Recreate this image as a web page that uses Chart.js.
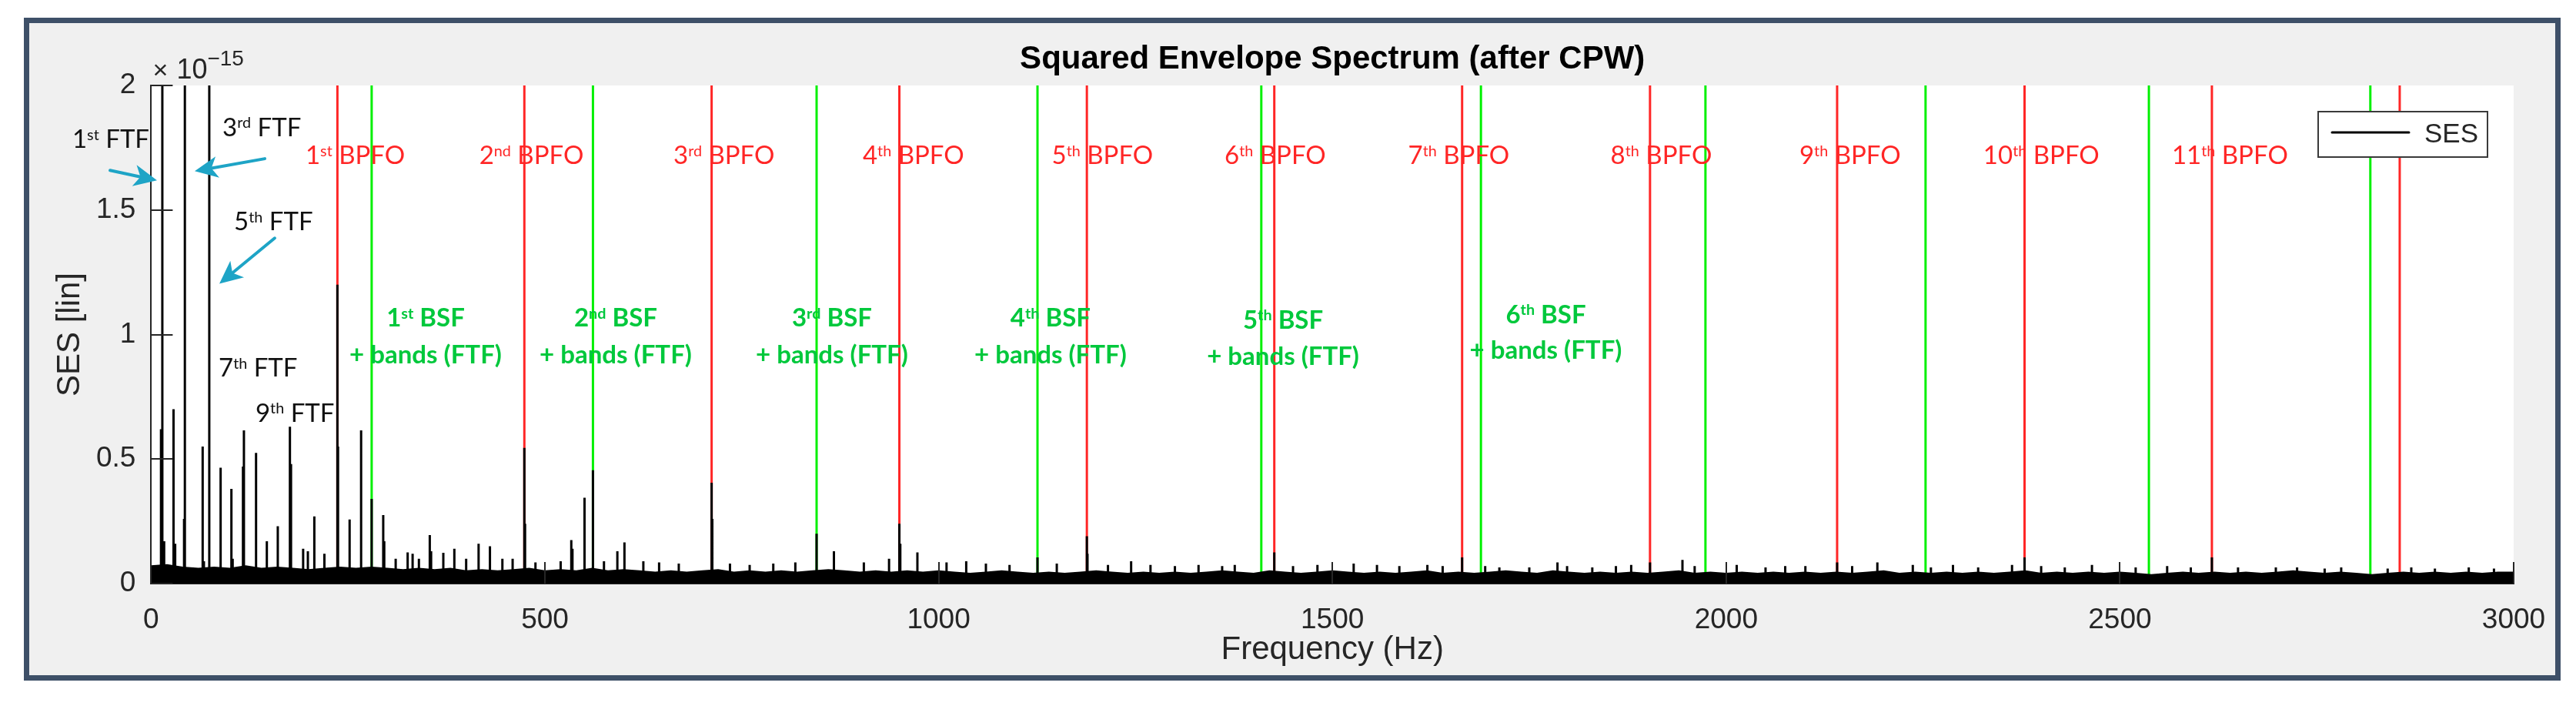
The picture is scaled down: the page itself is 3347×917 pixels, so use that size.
<!DOCTYPE html>
<html>
<head>
<meta charset="utf-8">
<script src="https://cdn.jsdelivr.net/npm/chart.js@4.4.1/dist/chart.umd.min.js"></script>
<style>
html,body{margin:0;padding:0;background:#ffffff;}
#wrap{width:3347px;height:917px;position:relative;}
canvas{display:block;}
</style>
</head>
<body>
<div id="wrap"><canvas id="c" width="3347" height="917"></canvas></div>
<script>
// ---------------- DATA ----------------
const chartTitle = 'Squared Envelope Spectrum (after CPW)';
const xAxisTitle = 'Frequency (Hz)';
const yAxisTitle = 'SES [lin]';
const yExponentLabel = ['\u00d7', '10', '\u221215'];
const seriesName = 'SES';

const xTickValues = [0, 500, 1000, 1500, 2000, 2500, 3000];
const xTickLabels = ['0', '500', '1000', '1500', '2000', '2500', '3000'];
const yTickValues = [0, 0.5, 1, 1.5, 2];
const yTickLabels = ['0', '0.5', '1', '1.5', '2'];

// spectrum noise floor (upper edge of the dense band), x10^-15
const floorFreqs = [0,20,40,60,80,100,120,140,160,180,200,220,240,260,280,300,320,340,360,380,400,420,440,460,480,500,520,540,560,580,600,620,640,660,680,700,720,740,760,780,800,820,840,860,880,900,920,940,960,980,1000,1020,1040,1060,1080,1100,1120,1140,1160,1180,1200,1220,1240,1260,1280,1300,1320,1340,1360,1380,1400,1420,1440,1460,1480,1500,1520,1540,1560,1580,1600,1620,1640,1660,1680,1700,1720,1740,1760,1780,1800,1820,1840,1860,1880,1900,1920,1940,1960,1980,2000,2020,2040,2060,2080,2100,2120,2140,2160,2180,2200,2220,2240,2260,2280,2300,2320,2340,2360,2380,2400,2420,2440,2460,2480,2500,2520,2540,2560,2580,2600,2620,2640,2660,2680,2700,2720,2740,2760,2780,2800,2820,2840,2860,2880,2900,2920,2940,2960,2980,3000];
const floorValues = [0.07,0.075,0.065,0.06,0.065,0.06,0.07,0.06,0.065,0.06,0.055,0.06,0.065,0.06,0.065,0.06,0.055,0.06,0.055,0.06,0.05,0.055,0.05,0.055,0.06,0.05,0.055,0.05,0.06,0.05,0.055,0.05,0.045,0.05,0.045,0.05,0.055,0.045,0.05,0.045,0.05,0.045,0.05,0.055,0.05,0.045,0.05,0.045,0.05,0.045,0.05,0.045,0.04,0.045,0.05,0.045,0.04,0.045,0.04,0.045,0.05,0.045,0.04,0.045,0.04,0.045,0.04,0.045,0.05,0.045,0.04,0.05,0.045,0.04,0.045,0.05,0.045,0.04,0.045,0.04,0.045,0.05,0.04,0.045,0.04,0.045,0.05,0.045,0.04,0.05,0.045,0.04,0.045,0.04,0.045,0.04,0.045,0.05,0.04,0.045,0.04,0.045,0.04,0.045,0.04,0.045,0.04,0.045,0.04,0.045,0.05,0.04,0.045,0.04,0.045,0.04,0.045,0.04,0.045,0.05,0.04,0.045,0.04,0.045,0.04,0.045,0.04,0.035,0.04,0.045,0.04,0.045,0.04,0.045,0.04,0.045,0.05,0.045,0.04,0.045,0.04,0.035,0.04,0.045,0.04,0.045,0.04,0.045,0.04,0.045,0.045];

// spectral lines (peaks), frequency in Hz and SES x10^-15
const peakFreqs = [12.5,14.2,16.5,28.4,30.5,41.8,42.8,65.4,67,73.8,88.2,101.9,103.5,116.6,117.8,133.2,146.9,160.8,176.2,177.6,193,199,207.2,220,236.5,237.3,252,266.6,280,294.7,296,310.5,325.7,332,340,353.8,355.5,371,385,400,415.8,430.2,446,459,473.9,474.8,488,520,533.5,535,550.3,561,575,592,601,625,645,670,711.7,712.6,735,760,790,818,845,867,905,937,950.1,951.3,973,1010,1035,1060,1090,1125.5,1150,1188.2,1189,1215,1244.4,1269,1300,1330,1360,1376,1426.2,1450,1481,1527,1556.6,1585,1620.6,1640,1664.7,1694,1712,1750,1785.8,1798,1830,1860,1879.4,1903.3,1944.5,1960,2013.4,2050,2075,2100.6,2140.9,2160,2192,2237,2260,2288,2320,2363,2378.9,2400,2430,2464.5,2520,2560,2590,2616.8,2650,2698,2725,2760,2781,2840,2870,2900,2943,2975];
const peakValues = [0.62,2.3,0.17,0.70,0.16,0.26,2.3,0.55,0.09,2.3,0.465,0.38,0.10,0.47,0.615,0.525,0.17,0.23,0.63,0.48,0.14,0.13,0.27,0.12,1.20,0.55,0.257,0.615,0.34,0.275,0.17,0.10,0.125,0.12,0.10,0.195,0.13,0.124,0.14,0.10,0.16,0.15,0.10,0.10,0.545,0.24,0.085,0.09,0.175,0.14,0.345,0.455,0.09,0.13,0.165,0.09,0.085,0.08,0.405,0.26,0.08,0.075,0.08,0.085,0.20,0.13,0.085,0.10,0.24,0.16,0.125,0.085,0.09,0.08,0.075,0.105,0.08,0.19,0.12,0.075,0.09,0.075,0.07,0.075,0.07,0.075,0.125,0.07,0.075,0.08,0.075,0.07,0.075,0.07,0.105,0.07,0.065,0.065,0.085,0.07,0.065,0.07,0.075,0.085,0.095,0.07,0.075,0.065,0.07,0.07,0.085,0.07,0.085,0.075,0.065,0.075,0.065,0.075,0.105,0.07,0.065,0.075,0.065,0.07,0.065,0.105,0.065,0.065,0.065,0.06,0.065,0.06,0.065,0.06,0.065,0.06];

// fault-frequency markers (Hz)
const bpfoFreqs = [236.5,473.9,711.7,950.1,1188.2,1426.2,1664.7,1903.3,2140.9,2378.9,2616.8,2855.3];
const bsfFreqs = [280,561,845,1125.5,1409.7,1688.6,1973.7,2253.2,2536.8,2818];

// annotation texts
const bpfoLabelOrders = [1,2,3,4,5,6,7,8,9,10,11];
const ftfLabelOrders = [1,3,5,7,9];
const bsfLabelOrders = [1,2,3,4,5,6];
const bpfoWord = ' BPFO';
const ftfWord = ' FTF';
const bsfWord = ' BSF';
const bandsText = '+ bands (FTF)';

// ---------------- LAYOUT (annotation anchors, data coordinates) ----------------
const bpfoLabelAnchor = { x: [196.0,416.6,663.2,903.6,1143.6,1363.0,1596.1,1853.2,2093.0,2326.5,2566.0], y: 1.684 };
const ftfLabelAnchor = { x: [-100.1,90.5,105.2,85.6,132.5], y: [1.749,1.796,1.418,0.830,0.650] };
const bsfLabelAnchor = { x: [348.5,589.9,864.5,1142,1437.3,1771], y1: [1.031,1.031,1.031,1.031,1.024,1.046], y2: [0.885,0.885,0.885,0.885,0.879,0.904] };
const arrowAnchors = [
  { from: [-52.2, 1.659], to: [7.4, 1.619] },
  { from: [144.3, 1.706], to: [55.3, 1.656] },
  { from: [156.9, 1.387], to: [86.6, 1.204] }
];

// ---------------- STYLE ----------------
const AX_FONT = "'Liberation Sans', Arial, Helvetica, sans-serif";
const NOTE_FONT = "Lato, 'Open Sans', sans-serif";
const AX_COLOR = '#262626';
const RED = '#ff2626';
const GREEN_LINE = '#00f000';
const GREEN_TEXT = '#00c83c';
const TEAL = '#1ea4c6';
const NOTE_SIZE = 33;

function ordSuffix(n){
  const h = n % 100;
  if (h >= 11 && h <= 13) return 'th';
  return ({1:'st',2:'nd',3:'rd'})[n % 10] || 'th';
}

// ---------------- BUILD DATASETS ----------------
function stems(freqs, values){
  const out = [];
  freqs.forEach((f, i) => {
    out.push({x: f, y: 0}, {x: f, y: values[i]}, {x: f, y: null});
  });
  return out;
}
const stemData = stems(peakFreqs, peakValues);
const floorData = floorFreqs.map((f, i) => ({x: f, y: floorValues[i]}));
const bpfoData = stems(bpfoFreqs, bpfoFreqs.map(() => yTickValues[yTickValues.length - 1]));
const bsfData = stems(bsfFreqs, bsfFreqs.map(() => yTickValues[yTickValues.length - 1]));

// ---------------- PLUGINS ----------------
const framePlugin = {
  id: 'frame',
  beforeDraw(chart){
    const {ctx, chartArea: ca, width, height} = chart;
    ctx.save();
    ctx.fillStyle = '#ffffff';
    ctx.fillRect(0, 0, width, height);
    ctx.fillStyle = '#3e5068';
    ctx.fillRect(31, 23, 3296, 861);
    ctx.fillStyle = '#f0f0f0';
    ctx.fillRect(38, 30, 3282, 847);
    ctx.fillStyle = '#ffffff';
    ctx.fillRect(ca.left, ca.top, ca.right - ca.left, ca.bottom - ca.top);
    ctx.restore();
  }
};

const tickPlugin = {
  id: 'inwardTicks',
  afterDatasetsDraw(chart){
    const {ctx, chartArea: ca, scales} = chart;
    const len = 28;
    ctx.save();
    ctx.strokeStyle = AX_COLOR;
    ctx.lineWidth = 2;
    ctx.beginPath();
    xTickValues.forEach(v => {
      const px = Math.round(scales.x.getPixelForValue(v));
      ctx.moveTo(px, ca.bottom);
      ctx.lineTo(px, ca.bottom - len);
    });
    yTickValues.forEach(v => {
      const py = Math.round(scales.y.getPixelForValue(v));
      ctx.moveTo(ca.left, py);
      ctx.lineTo(ca.left + len, py);
    });
    ctx.stroke();
    ctx.restore();
  }
};

function richParts(n, word){
  return [{t: String(n), sup: false}, {t: ordSuffix(n), sup: true}, {t: word, sup: false}];
}
function drawRich(ctx, x, y, parts, size, weight, color, align){
  let w = 0;
  parts.forEach(p => {
    ctx.font = weight + ' ' + (p.sup ? size * 0.6 : size) + 'px ' + NOTE_FONT;
    w += ctx.measureText(p.t).width;
  });
  let cx = align === 'center' ? x - w / 2 : x;
  ctx.fillStyle = color;
  ctx.textAlign = 'left';
  ctx.textBaseline = 'alphabetic';
  parts.forEach(p => {
    ctx.font = weight + ' ' + (p.sup ? size * 0.6 : size) + 'px ' + NOTE_FONT;
    ctx.fillText(p.t, cx, p.sup ? y - size * 0.32 : y);
    cx += ctx.measureText(p.t).width;
  });
}
function drawArrow(ctx, x1, y1, x2, y2){
  const a = Math.atan2(y2 - y1, x2 - x1);
  const L = 30, W = 14, back = 8;
  const bx = x2 - L * Math.cos(a), by = y2 - L * Math.sin(a);
  ctx.strokeStyle = TEAL;
  ctx.lineWidth = 4;
  ctx.lineCap = 'round';
  ctx.beginPath();
  ctx.moveTo(x1, y1);
  ctx.lineTo(bx + back * Math.cos(a), by + back * Math.sin(a));
  ctx.stroke();
  ctx.fillStyle = TEAL;
  ctx.beginPath();
  ctx.moveTo(x2, y2);
  ctx.lineTo(bx + W * Math.sin(a), by - W * Math.cos(a));
  ctx.lineTo(bx + back * Math.cos(a), by + back * Math.sin(a));
  ctx.lineTo(bx - W * Math.sin(a), by + W * Math.cos(a));
  ctx.closePath();
  ctx.fill();
}

const notesPlugin = {
  id: 'notes',
  afterDraw(chart){
    const {ctx, scales, chartArea: ca} = chart;
    const X = v => scales.x.getPixelForValue(v);
    const Y = v => scales.y.getPixelForValue(v);
    ctx.save();

    // exponent label
    ctx.fillStyle = AX_COLOR;
    ctx.textBaseline = 'alphabetic';
    ctx.textAlign = 'left';
    ctx.font = '34px ' + AX_FONT;
    ctx.fillText(yExponentLabel[0], ca.left + 2, ca.top - 9);
    ctx.font = '36px ' + AX_FONT;
    ctx.fillText(yExponentLabel[1], ca.left + 33, ca.top - 9);
    const w10 = ctx.measureText(yExponentLabel[1]).width;
    ctx.font = '28px ' + AX_FONT;
    ctx.fillText(yExponentLabel[2], ca.left + 33 + w10, ca.top - 26);

    // BPFO labels
    bpfoLabelOrders.forEach((n, i) => {
      drawRich(ctx, X(bpfoLabelAnchor.x[i]), Y(bpfoLabelAnchor.y), richParts(n, bpfoWord), NOTE_SIZE, 'normal', RED, 'left');
    });
    // FTF labels
    ftfLabelOrders.forEach((n, i) => {
      drawRich(ctx, X(ftfLabelAnchor.x[i]), Y(ftfLabelAnchor.y[i]), richParts(n, ftfWord), NOTE_SIZE, 'normal', '#111111', 'left');
    });
    // BSF labels
    bsfLabelOrders.forEach((n, i) => {
      drawRich(ctx, X(bsfLabelAnchor.x[i]), Y(bsfLabelAnchor.y1[i]), richParts(n, bsfWord), NOTE_SIZE, 'bold', GREEN_TEXT, 'center');
      drawRich(ctx, X(bsfLabelAnchor.x[i]), Y(bsfLabelAnchor.y2[i]), [{t: bandsText, sup: false}], NOTE_SIZE, 'bold', GREEN_TEXT, 'center');
    });
    // arrows
    arrowAnchors.forEach(a => {
      drawArrow(ctx, X(a.from[0]), Y(a.from[1]), X(a.to[0]), Y(a.to[1]));
    });

    // legend box (inside axes, top right)
    const lx = ca.right - 254, ly = ca.top + 34, lw = 220, lh = 59;
    ctx.fillStyle = '#ffffff';
    ctx.fillRect(lx, ly, lw, lh);
    ctx.strokeStyle = '#3a3a3a';
    ctx.lineWidth = 2;
    ctx.strokeRect(lx, ly, lw, lh);
    ctx.strokeStyle = '#000000';
    ctx.lineWidth = 3;
    ctx.beginPath();
    ctx.moveTo(lx + 18, ly + 27);
    ctx.lineTo(lx + 118, ly + 27);
    ctx.stroke();
    ctx.fillStyle = AX_COLOR;
    ctx.font = '35px ' + AX_FONT;
    ctx.textBaseline = 'middle';
    ctx.fillText(seriesName, lx + 138, ly + 30);

    ctx.restore();
  }
};

// ---------------- CHART ----------------
const lineBase = { pointRadius: 0, pointHoverRadius: 0, tension: 0, spanGaps: false, clip: 0, borderCapStyle: 'butt' };

new Chart(document.getElementById('c'), {
  type: 'line',
  data: {
    datasets: [
      Object.assign({ label: seriesName, data: stemData, borderColor: '#000000', borderWidth: 3, fill: false }, lineBase),
      Object.assign({ label: seriesName + ' floor', data: floorData, borderColor: '#000000', backgroundColor: '#000000', borderWidth: 2, fill: 'origin' }, lineBase),
      Object.assign({ label: 'BPFO', data: bpfoData, borderColor: RED, borderWidth: 3, fill: false }, lineBase),
      Object.assign({ label: 'BSF', data: bsfData, borderColor: GREEN_LINE, borderWidth: 3, fill: false }, lineBase)
    ]
  },
  options: {
    responsive: false,
    animation: false,
    devicePixelRatio: 1,
    events: [],
    layout: { padding: { left: 38, right: 81, top: 0, bottom: 40 } },
    plugins: {
      legend: { display: false },
      tooltip: { enabled: false },
      title: {
        display: true,
        text: chartTitle,
        fullSize: false,
        color: '#000000',
        font: { family: AX_FONT, size: 42, weight: 'bold', lineHeight: 1.2 },
        padding: { top: 51.8, bottom: 8.8 }
      }
    },
    scales: {
      x: {
        type: 'linear',
        min: xTickValues[0],
        max: xTickValues[xTickValues.length - 1],
        afterFit: s => { s.height = 119; },
        afterBuildTicks: s => { s.ticks = xTickValues.map(v => ({ value: v })); },
        grid: { display: false, drawTicks: false },
        border: { display: true, color: AX_COLOR, width: 2 },
        ticks: {
          autoSkip: false, maxRotation: 0, color: AX_COLOR, padding: 25.5,
          font: { family: AX_FONT, size: 37 },
          callback: v => { const i = xTickValues.indexOf(v); return i >= 0 ? xTickLabels[i] : ''; }
        },
        title: {
          display: true, text: xAxisTitle, color: AX_COLOR,
          font: { family: AX_FONT, size: 42, lineHeight: 1.2 },
          padding: { top: 0, bottom: 7.8 }
        }
      },
      y: {
        type: 'linear',
        min: yTickValues[0],
        max: yTickValues[yTickValues.length - 1],
        afterFit: s => { s.width = 158.4; },
        afterBuildTicks: s => { s.ticks = yTickValues.map(v => ({ value: v })); },
        grid: { display: false, drawTicks: false },
        border: { display: true, color: AX_COLOR, width: 2 },
        ticks: {
          color: AX_COLOR, padding: 20,
          font: { family: AX_FONT, size: 37 },
          callback: v => { const i = yTickValues.findIndex(t => Math.abs(t - v) < 1e-9); return i >= 0 ? yTickLabels[i] : ''; }
        },
        title: {
          display: true, text: yAxisTitle, color: AX_COLOR,
          font: { family: AX_FONT, size: 42, lineHeight: 1.2 },
          padding: { top: 27.8, bottom: 0 }
        }
      }
    }
  },
  plugins: [framePlugin, tickPlugin, notesPlugin]
});
</script>
</body>
</html>
